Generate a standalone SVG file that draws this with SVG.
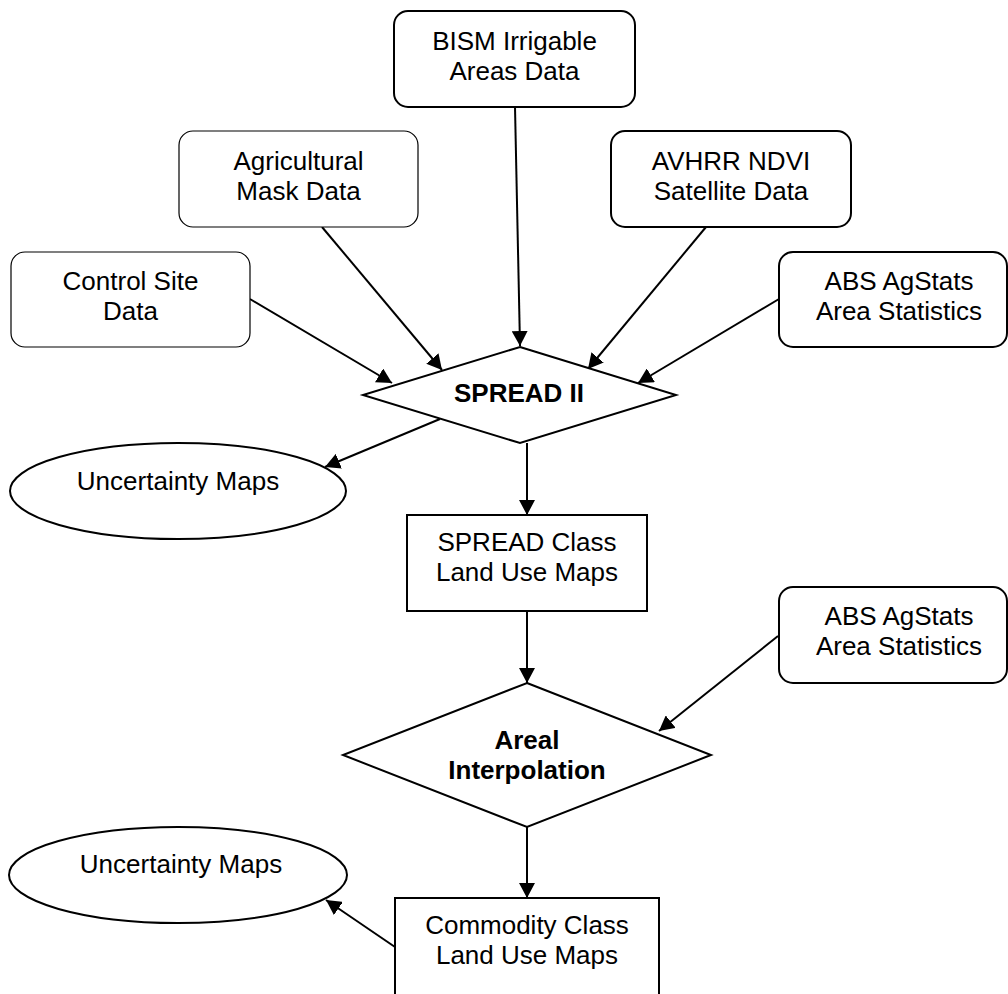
<svg xmlns="http://www.w3.org/2000/svg" width="1008" height="994" viewBox="0 0 1008 994">
<defs>
<style>
.box{fill:#fff;stroke:#000;stroke-width:2}
.thin{fill:#fff;stroke:#000;stroke-width:1.2}
.t{font-family:"Liberation Sans",Arial,sans-serif;font-size:26px;fill:#000;text-anchor:middle}
.b{font-weight:bold}
.c{fill:none;stroke:#000;stroke-width:2}
</style>
<marker id="ah" markerUnits="userSpaceOnUse" viewBox="0 0 15 16" refX="15" refY="8" markerWidth="15" markerHeight="16" orient="auto">
<path d="M0,0 L15,8 L0,16 z" fill="#000"/>
</marker>
</defs>
<rect width="1008" height="994" fill="#fff"/>
<g id="connectors">
<line class="c" x1="250" y1="299" x2="392" y2="383" marker-end="url(#ah)"/>
<line class="c" x1="322" y1="227" x2="442" y2="370" marker-end="url(#ah)"/>
<line class="c" x1="515" y1="107" x2="520" y2="346" marker-end="url(#ah)"/>
<line class="c" x1="706" y1="227" x2="588" y2="369" marker-end="url(#ah)"/>
<line class="c" x1="779" y1="299" x2="638" y2="383" marker-end="url(#ah)"/>
<line class="c" x1="440" y1="419" x2="325" y2="467" marker-end="url(#ah)"/>
<line class="c" x1="527" y1="443" x2="527" y2="515" marker-end="url(#ah)"/>
<line class="c" x1="527" y1="611" x2="527" y2="683" marker-end="url(#ah)"/>
<line class="c" x1="778" y1="636" x2="659" y2="731" marker-end="url(#ah)"/>
<line class="c" x1="527" y1="827" x2="527" y2="898" marker-end="url(#ah)"/>
<line class="c" x1="395" y1="947" x2="326" y2="900" marker-end="url(#ah)"/>
</g>
<g id="bism">
<rect class="box" x="394" y="11" width="241" height="96" rx="14"/>
<text class="t" x="514.5" y="50">BISM Irrigable</text>
<text class="t" x="514.5" y="80">Areas Data</text>
</g>
<g id="agri">
<rect class="thin" x="179" y="131" width="239" height="96" rx="14"/>
<text class="t" x="298.5" y="170">Agricultural</text>
<text class="t" x="298.5" y="200">Mask Data</text>
</g>
<g id="avhrr">
<rect class="box" x="611" y="131" width="240" height="96" rx="14"/>
<text class="t" x="731" y="170">AVHRR NDVI</text>
<text class="t" x="731" y="200">Satellite Data</text>
</g>
<g id="control">
<rect class="thin" x="11" y="252" width="239" height="95" rx="14"/>
<text class="t" x="130.5" y="290">Control Site</text>
<text class="t" x="130.5" y="320">Data</text>
</g>
<g id="abs1">
<rect class="box" x="779" y="252" width="228" height="95" rx="14"/>
<text class="t" x="899" y="290">ABS AgStats</text>
<text class="t" x="899" y="320">Area Statistics</text>
</g>
<g id="spread">
<polygon class="box" points="520,347 676,395 520,443 363,395"/>
<text class="t b" x="519" y="402">SPREAD II</text>
</g>
<g id="uncert1">
<ellipse class="box" cx="178" cy="491" rx="168" ry="48"/>
<text class="t" x="178" y="490">Uncertainty Maps</text>
</g>
<g id="spreadclass">
<rect class="box" x="407" y="515" width="240" height="96"/>
<text class="t" x="527" y="551">SPREAD Class</text>
<text class="t" x="527" y="581">Land Use Maps</text>
</g>
<g id="abs2">
<rect class="box" x="779" y="587" width="228" height="96" rx="14"/>
<text class="t" x="899" y="625">ABS AgStats</text>
<text class="t" x="899" y="655">Area Statistics</text>
</g>
<g id="areal">
<polygon class="box" points="527,683 711,755 527,827 343,755"/>
<text class="t b" x="527" y="749">Areal</text>
<text class="t b" x="527" y="779">Interpolation</text>
</g>
<g id="uncert2">
<ellipse class="box" cx="178" cy="875" rx="169" ry="48"/>
<text class="t" x="181" y="873">Uncertainty Maps</text>
</g>
<g id="commodity">
<rect class="box" x="395" y="898" width="264" height="120"/>
<text class="t" x="527" y="934">Commodity Class</text>
<text class="t" x="527" y="964">Land Use Maps</text>
</g>
</svg>
